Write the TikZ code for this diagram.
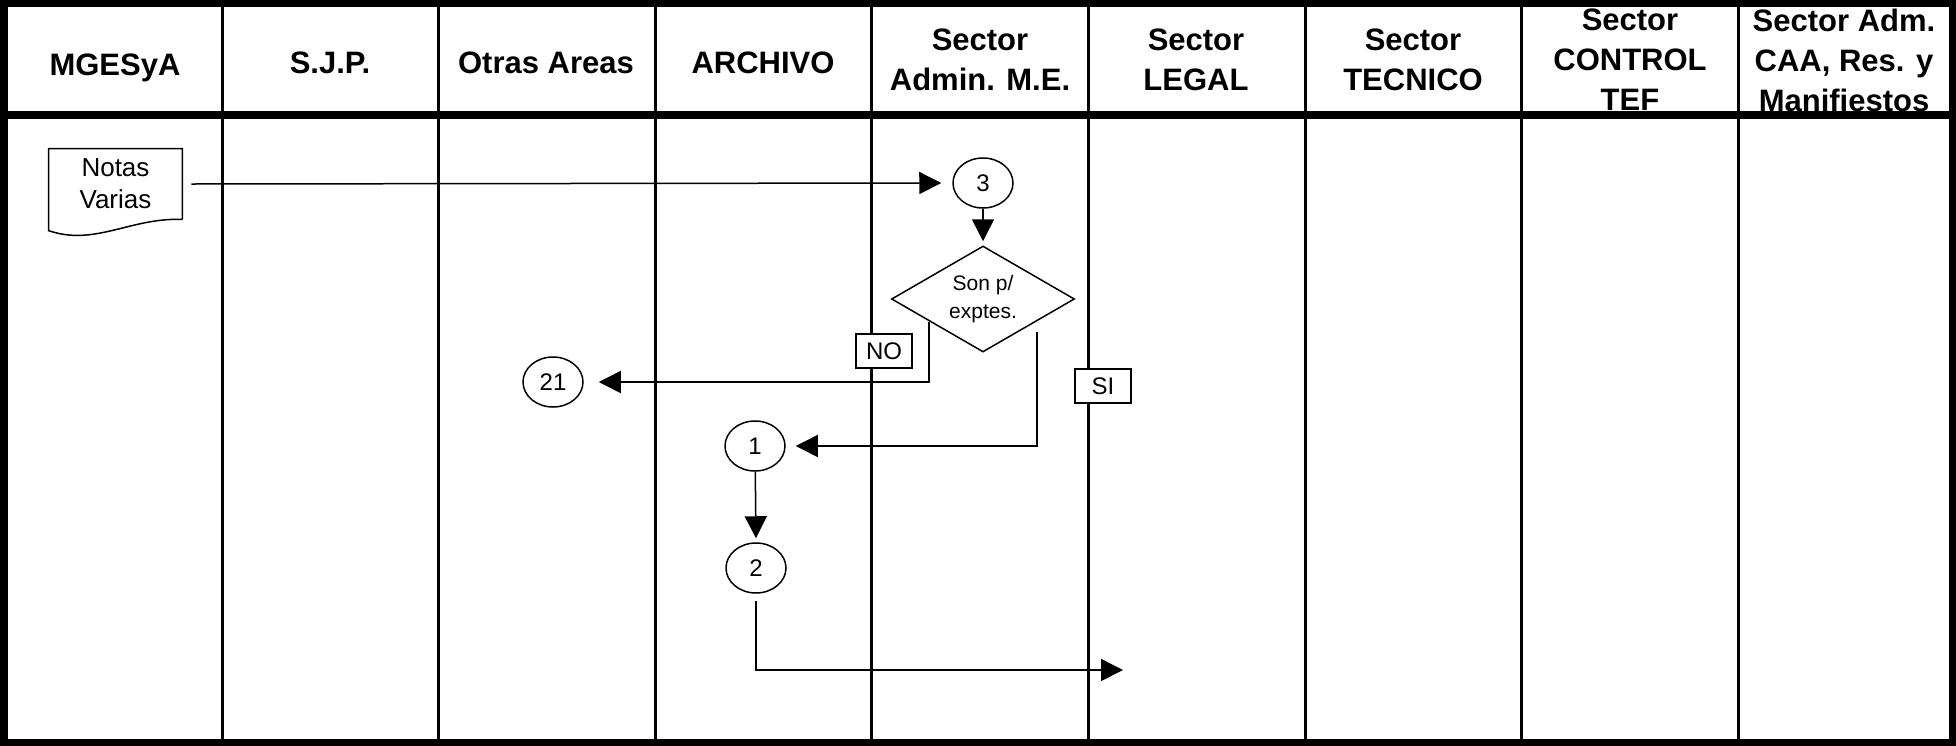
\documentclass[tikz,border=0pt]{standalone}
\usepackage{fontspec}
\setmainfont{Liberation Sans}
\usetikzlibrary{arrows.meta,shapes.geometric}

\tikzset{
  marco/.style={line width=4pt},
  carril/.style={line width=1.5pt},
  cabecera/.style={align=center,font=\bfseries\fontsize{15.5}{20}\selectfont},
  conector/.style={draw,ellipse,line width=0.75pt,minimum width=30pt,minimum height=25pt,inner sep=0pt,font=\fontsize{12}{14}\selectfont},
  decision/.style={draw,diamond,aspect=1.7,line width=0.75pt,minimum width=91.5pt,minimum height=53pt,inner sep=0pt,align=center,font=\fontsize{10.5}{14}\selectfont},
  etiqueta/.style={draw,fill=white,line width=0.75pt,minimum width=28pt,minimum height=17pt,inner sep=1pt,font=\fontsize{12}{14}\selectfont},
  flecha/.style={line width=0.75pt,-{Triangle[length=11pt,width=11pt]}},
}

\begin{document}
\begin{tikzpicture}[x=0.5pt,y=-0.5pt]
    \useasboundingbox (0,0) rectangle (1956,745);
    \foreach \x/\y/\txt [count=\i] in {115/68/MGESyA, 330/63/S.J.P., 546/63/Otras Areas, 763/63/ARCHIVO, 980/60/{Sector\\Admin. M.E.}, 1196/60/{Sector\\LEGAL}, 1413/60/{Sector\\TECNICO}, 1630/60/{Sector\\CONTROL\\TEF}, 1844/60/{Sector Adm.\\CAA, Res. y\\Manifiestos}}
        \node[cabecera] (h\i) at (\x,\y) {\txt};
    \foreach \x in {222,438,655,871,1088,1305,1521,1738}
        \draw[carril] (\x,0) -- (\x,745);
    \draw[marco] (4,3) rectangle (1953,743);
    \draw[marco] (0,115) -- (1956,115);

    \node[minimum width=66.5pt,minimum height=35pt,align=center,font=\fontsize{13}{16}\selectfont] (notas) at (115.5,184) {Notas\\Varias};
    \draw[line width=0.75pt] (notas.south east) -- (notas.north east) -- (notas.north west) -- ++(0,82) .. controls +(46,16) and +(-52,-2) .. (notas.south east);
    \node[conector] (n3) at (983,183) {3};
    \node[decision] (dec) at (983,299) {Son p/\\exptes.};
    \node[conector] (n21) at (553,382) {21};
    \node[conector] (n1) at (755,446) {1};
    \node[conector] (n2) at (756,568) {2};
    \coordinate (fin) at (1123,670);

    \draw[flecha] ([xshift=4.5pt]notas.east) -- ([xshift=-5.5pt]n3.west);
    \draw[flecha] (n3) -- ([yshift=2pt]dec.north);
    \draw[flecha,shorten >=7.5pt] ([xshift=-4pt,yshift=2pt]dec.south west) |- (n21);
    \draw[flecha,shorten >=5pt] ([xshift=4pt,yshift=-3pt]dec.south east) |- (n1);
    \draw[flecha] (n1) -- ([yshift=2pt]n2.north);
    \draw[flecha] ([yshift=-3.5pt]n2.south) |- (fin);

    \node[etiqueta] (no) at (884,351) {NO};
    \node[etiqueta] (si) at (1103,386) {SI};
\end{tikzpicture}
\end{document}
